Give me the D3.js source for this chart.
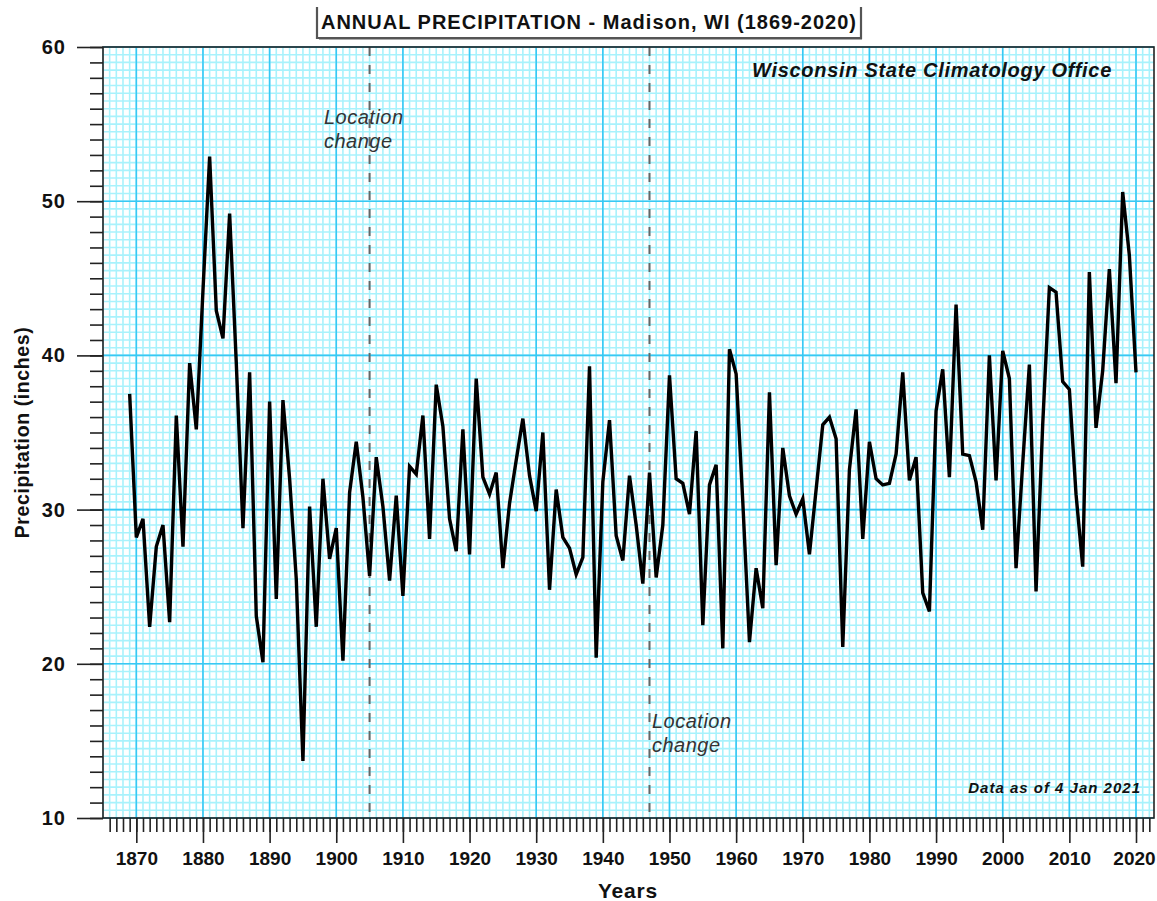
<!DOCTYPE html>
<html>
<head>
<meta charset="utf-8">
<script src="https://cdn.jsdelivr.net/npm/d3@7"></script>
<style>
  html, body { margin: 0; padding: 0; background: #ffffff; }
  svg { display: block; font-family: "Liberation Sans", Arial, sans-serif; }
</style>
</head>
<body>
<svg id="chart" width="1157" height="901"></svg>
<script>
// Annual precipitation totals (inches), Madison WI, starting 1869
const startYear = 1869;
const precipitation = [
  37.5, 28.2, 29.4, 22.4, 27.6, 29.0, 22.7, 36.1, 27.6, 39.5, // 1869-1878
  35.2, 44.2, 52.9, 42.9, 41.1, 49.2, 39.5, 28.8, 38.9, 23.1, // 1879-1888
  20.1, 37.0, 24.2, 37.1, 32.0, 25.5, 13.7, 30.2, 22.4, 32.0, // 1889-1898
  26.8, 28.8, 20.2, 31.1, 34.4, 30.8, 25.7, 33.4, 30.2, 25.4, // 1899-1908
  30.9, 24.4, 32.8, 32.3, 36.1, 28.1, 38.1, 35.4, 29.4, 27.3, // 1909-1918
  35.2, 27.1, 38.5, 32.1, 31.0, 32.4, 26.2, 30.4, 33.2, 35.9, // 1919-1928
  32.2, 29.9, 35.0, 24.8, 31.3, 28.2, 27.5, 25.8, 26.9, 39.3, // 1929-1938
  20.4, 31.8, 35.8, 28.3, 26.7, 32.2, 29.0, 25.2, 32.4, 25.6, // 1939-1948
  29.0, 38.7, 32.0, 31.7, 29.7, 35.1, 22.5, 31.6, 32.9, 21.0, // 1949-1958
  40.4, 38.8, 30.5, 21.4, 26.2, 23.6, 37.6, 26.4, 34.0, 30.9, // 1959-1968
  29.7, 30.7, 27.1, 31.3, 35.5, 36.0, 34.6, 21.1, 32.6, 36.5, // 1969-1978
  28.1, 34.4, 32.0, 31.6, 31.7, 33.6, 38.9, 31.9, 33.4, 24.6, // 1979-1988
  23.4, 36.4, 39.1, 32.1, 43.3, 33.6, 33.5, 31.8, 28.7, 40.0, // 1989-1998
  31.9, 40.3, 38.5, 26.2, 33.0, 39.4, 24.7, 35.5, 44.4, 44.1, // 1999-2008
  38.3, 37.8, 31.0, 26.3, 45.4, 35.3, 39.0, 45.6, 38.2, 50.6, // 2009-2018
  46.5, 38.9                                                  // 2019-2020
];

// Axis tick values
const yearTicks = [1870, 1880, 1890, 1900, 1910, 1920, 1930, 1940, 1950, 1960, 1970, 1980, 1990, 2000, 2010, 2020];
const precipTicks = [10, 20, 30, 40, 50, 60];

// Station relocation years
const locationChanges = [1905, 1947];

const titleText = "ANNUAL PRECIPITATION - Madison, WI (1869-2020)";

const series = precipitation.map((v, i) => ({ year: startYear + i, value: v }));

const svg = d3.select("#chart");
const plot = { left: 103, right: 1154, top: 47, bottom: 818 };

const x = d3.scaleLinear().domain([1865, 2022.7]).range([plot.left, plot.right]);
const y = d3.scaleLinear().domain([10, 60]).range([plot.bottom, plot.top]);

// Graph-paper grid
const grid = svg.append("g");
const minorYears = d3.range(1865, 2023, 1);
const minorInches = d3.range(10, 60.01, 0.5);

grid.selectAll("line.vminor").data(minorYears).join("line")
  .attr("x1", d => x(d)).attr("x2", d => x(d))
  .attr("y1", plot.top).attr("y2", plot.bottom)
  .attr("stroke", "#a8f2fc").attr("stroke-width", 1.6);

grid.selectAll("line.hminor").data(minorInches).join("line")
  .attr("x1", plot.left).attr("x2", plot.right)
  .attr("y1", d => y(d)).attr("y2", d => y(d))
  .attr("stroke", "#a8f2fc").attr("stroke-width", 1.6);

grid.selectAll("line.vmajor").data(yearTicks).join("line")
  .attr("x1", d => x(d)).attr("x2", d => x(d))
  .attr("y1", plot.top).attr("y2", plot.bottom)
  .attr("stroke", "#38c8f4").attr("stroke-width", 1.6);

grid.selectAll("line.hmajor").data(precipTicks).join("line")
  .attr("x1", plot.left).attr("x2", plot.right)
  .attr("y1", d => y(d)).attr("y2", d => y(d))
  .attr("stroke", "#38c8f4").attr("stroke-width", 1.6);

// Relocation markers
svg.append("g").selectAll("line").data(locationChanges).join("line")
  .attr("x1", d => x(d)).attr("x2", d => x(d))
  .attr("y1", plot.top).attr("y2", plot.bottom)
  .attr("stroke", "#666").attr("stroke-width", 2)
  .attr("stroke-dasharray", "9,9");

// Precipitation line
const line = d3.line().x(d => x(d.year)).y(d => y(d.value));
svg.append("path").datum(series)
  .attr("d", line)
  .attr("fill", "none")
  .attr("stroke", "#000")
  .attr("stroke-width", 3.4)
  .attr("stroke-linejoin", "miter")
  .attr("stroke-miterlimit", 4);

// Frame
svg.append("rect")
  .attr("x", plot.left).attr("y", plot.top)
  .attr("width", plot.right - plot.left).attr("height", plot.bottom - plot.top)
  .attr("fill", "none").attr("stroke", "#222").attr("stroke-width", 1.6);

const labelFont = sel => sel
  .attr("fill", "#111").attr("font-size", 19).attr("font-weight", "bold")
  .attr("font-family", "Liberation Sans, Arial, sans-serif");

// X axis: yearly minor ticks, decade major ticks with labels
const xMinor = d3.axisBottom(x).tickValues(d3.range(1866, 2023, 1)).tickSize(14).tickFormat("");
const xMajor = d3.axisBottom(x).tickValues(yearTicks).tickSize(25).tickFormat(d3.format("d")).tickPadding(9);
const gxMinor = svg.append("g").attr("transform", `translate(0,${plot.bottom})`).call(xMinor);
const gxMajor = svg.append("g").attr("transform", `translate(0,${plot.bottom})`).call(xMajor);
[gxMinor, gxMajor].forEach(g => {
  g.select(".domain").remove();
  g.selectAll(".tick line").attr("stroke", "#222").attr("stroke-width", 1.6);
});
gxMajor.selectAll(".tick text").call(labelFont)
  .attr("dx", d => d === yearTicks[yearTicks.length - 1] ? -2 : 0);

// Y axis: one-inch minor ticks, ten-inch major ticks with labels
const yMinor = d3.axisLeft(y).tickValues(d3.range(10, 61, 1)).tickSize(13).tickFormat("");
const yMajor = d3.axisLeft(y).tickValues(precipTicks).tickSize(26).tickFormat(d3.format("d")).tickPadding(11);
const gyMinor = svg.append("g").attr("transform", `translate(${plot.left},0)`).call(yMinor);
const gyMajor = svg.append("g").attr("transform", `translate(${plot.left},0)`).call(yMajor);
[gyMinor, gyMajor].forEach(g => {
  g.select(".domain").remove();
  g.selectAll(".tick line").attr("stroke", "#222").attr("stroke-width", 1.6);
});
gyMajor.selectAll(".tick text").call(labelFont).attr("font-size", 20).attr("letter-spacing", 1);

// Axis titles
svg.append("text")
  .attr("x", 628).attr("y", 898)
  .attr("text-anchor", "middle")
  .attr("font-size", 21).attr("font-weight", "bold").attr("fill", "#111")
  .attr("letter-spacing", 0.8)
  .text("Years");

svg.append("text")
  .attr("transform", `translate(29,${(plot.top + plot.bottom) / 2}) rotate(-90)`)
  .attr("text-anchor", "middle")
  .attr("font-size", 19.5).attr("font-weight", "bold").attr("fill", "#111")
  .attr("letter-spacing", 0.6)
  .text("Precipitation (inches)");

// Title box
const tb = { x1: 317, x2: 861, y1: 7, y2: 38 };
svg.append("path")
  .attr("d", `M${tb.x1},${tb.y1} V${tb.y2} H${tb.x2} V${tb.y1}`)
  .attr("fill", "none").attr("stroke", "#555").attr("stroke-width", 2.2);
svg.append("line")
  .attr("x1", tb.x1 + 2).attr("x2", tb.x2 + 1).attr("y1", tb.y2 + 1.5).attr("y2", tb.y2 + 1.5)
  .attr("stroke", "#aaa").attr("stroke-width", 1.2);
svg.append("text")
  .attr("x", (tb.x1 + tb.x2) / 2).attr("y", 29)
  .attr("text-anchor", "middle")
  .attr("font-size", 20).attr("font-weight", "bold").attr("fill", "#111")
  .attr("letter-spacing", 1)
  .text(titleText);

// Annotations
svg.append("text")
  .attr("x", 1112).attr("y", 77)
  .attr("text-anchor", "end")
  .attr("font-size", 20).attr("font-weight", "bold").attr("font-style", "italic").attr("fill", "#111")
  .attr("letter-spacing", 0.7)
  .text("Wisconsin State Climatology Office");

svg.append("text")
  .attr("x", 1141).attr("y", 793)
  .attr("text-anchor", "end")
  .attr("font-size", 15).attr("font-weight", "bold").attr("font-style", "italic").attr("fill", "#111")
  .attr("letter-spacing", 1)
  .text("Data as of 4 Jan 2021");

const noteStyle = sel => sel
  .attr("font-size", 20).attr("font-style", "italic").attr("fill", "#333")
  .attr("letter-spacing", 0.5);

const note1 = svg.append("text").call(noteStyle);
note1.append("tspan").attr("x", 324).attr("y", 124).text("Location");
note1.append("tspan").attr("x", 324).attr("y", 148).text("change");

const note2 = svg.append("text").call(noteStyle);
note2.append("tspan").attr("x", 652).attr("y", 728).text("Location");
note2.append("tspan").attr("x", 652).attr("y", 752).text("change");
</script>
</body>
</html>
